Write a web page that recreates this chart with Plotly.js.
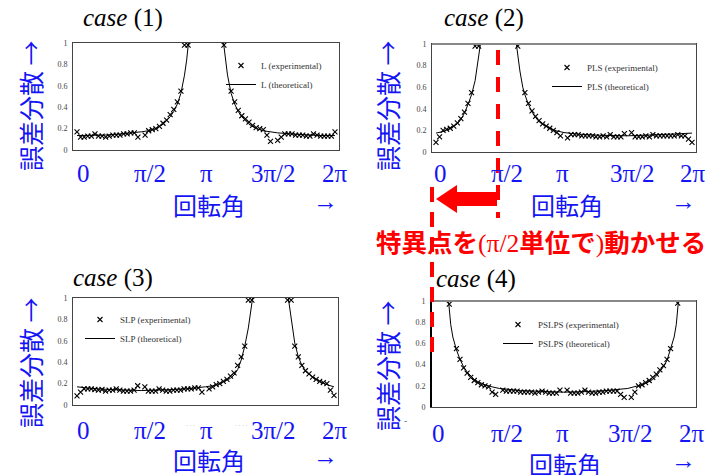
<!DOCTYPE html>
<html>
<head>
<meta charset="utf-8">
<script src="https://cdn.plot.ly/plotly-3.0.1.min.js"></script>
<style>html,body{margin:0;padding:0;background:#fff;}#chart{width:713px;height:475px;}</style>
</head>
<body>
<div id="chart"></div>
<script>
// ---- data ----
const angles = [0,5,10,15,20,25,30,35,40,45,50,55,60,65,70,75,80,85,90,95,100,105,110,115,120,125,130,135,140,145,150,155,160,165,170,175,180,185,190,195,200,205,210,215,220,225,230,235,240,245,250,255,260,265,270,275,280,285,290,295,300,305,310,315,320,325,330,335,340,345,350,355,360];

const case1Exp = [0.17,0.12,0.12,0.13,0.13,0.15,0.13,0.13,0.12,0.13,
  0.14,0.14,0.14,0.15,0.15,0.16,0.16,0.12,null,0.14,
  0.18,0.19,0.2,0.22,0.25,0.28,0.33,0.38,0.45,0.55,
  0.98,0.98,null,null,null,null,null,null,null,null,
  null,0.98,null,0.55,0.45,0.37,0.32,0.29,0.26,0.23,
  0.21,0.2,0.19,0.14,0.08,null,0.09,0.12,0.15,0.15,
  0.15,0.14,0.14,0.14,0.13,0.13,0.15,0.14,0.13,0.13,
  0.13,0.13,0.17];
const case1TheoX = [0,20,40,60,80,90,100,110,120,130,135,140,145,150,153,155.5,null,204.5,207,210,215,220,225,230,240,250,260,270,280,300,320,340,360];
const case1TheoY = [0.135,0.135,0.14,0.15,0.16,0.17,0.18,0.2,0.24,0.31,0.36,0.43,0.53,0.7,0.84,1.0,null,1.0,0.84,0.7,0.53,0.43,0.36,0.31,0.24,0.2,0.18,0.17,0.16,0.15,0.14,0.135,0.135];

const case2Exp = [0.09,0.14,0.2,0.21,0.22,0.24,0.27,0.31,0.37,0.45,
  0.55,0.98,0.98,null,null,null,null,null,null,null,
  null,null,null,0.98,null,0.55,0.45,0.38,0.33,0.29,
  0.26,0.24,0.22,0.2,0.18,0.15,null,0.13,0.16,0.16,
  0.16,0.15,0.15,0.15,0.15,0.14,0.14,0.15,0.14,0.16,
  0.14,0.14,0.14,0.17,null,0.18,0.14,0.14,0.14,0.15,
  0.14,0.16,0.15,0.15,0.15,0.15,0.15,0.15,0.16,0.15,
  0.15,0.12,0.09];
const case2TheoX = [0,10,20,30,35,40,45,50,55,58,60,62.5,null,113,115,118,122,125,130,135,140,145,150,160,170,180,200,230,270,300,330,360];
const case2TheoY = [0.175,0.19,0.22,0.26,0.3,0.36,0.44,0.53,0.66,0.78,0.88,1.0,null,1.0,0.88,0.75,0.6,0.53,0.44,0.37,0.32,0.28,0.255,0.22,0.195,0.18,0.165,0.155,0.15,0.155,0.165,0.175];

const case3Exp = [0.085,0.12,0.15,0.15,0.15,0.145,0.14,0.145,0.13,0.14,
  0.14,0.15,0.14,0.13,0.13,0.13,0.14,0.18,null,0.17,
  0.13,0.13,0.13,0.15,0.14,0.13,0.13,0.14,0.14,0.14,
  0.15,0.15,0.15,0.16,0.16,0.12,null,0.15,0.17,0.19,
  0.2,0.22,0.24,0.27,0.3,0.37,0.45,0.55,0.98,0.98,
  null,null,null,null,null,null,null,null,null,0.98,
  0.98,0.55,0.45,0.37,0.32,0.29,0.26,0.24,0.22,0.21,
  0.2,0.14,0.09];
const case3TheoX = [0,20,45,90,135,160,180,190,200,210,215,220,225,230,235,240,243,246,null,296,299,302,305,310,315,320,330,340,350,360];
const case3TheoY = [0.17,0.155,0.145,0.135,0.145,0.155,0.17,0.18,0.2,0.23,0.25,0.28,0.33,0.42,0.55,0.72,0.85,1.0,null,1.0,0.85,0.72,0.58,0.45,0.37,0.32,0.26,0.22,0.19,0.17];

const case4Exp = [null,null,null,null,0.97,null,0.55,0.45,0.37,0.32,
  0.28,0.25,0.23,0.21,0.2,0.19,0.14,0.12,null,0.16,
  0.15,0.15,0.15,0.15,0.14,0.14,0.14,0.14,0.13,0.14,
  0.15,0.14,0.13,0.13,0.13,0.16,null,0.16,0.13,0.13,
  0.13,0.14,0.16,0.14,0.13,0.13,0.14,0.14,0.15,0.15,
  0.15,0.15,0.12,0.09,null,0.09,0.14,0.2,0.21,0.23,
  0.25,0.28,0.31,0.35,0.39,0.45,0.55,null,0.98,null,
  null,null,null];
const case4TheoX = [19,22,25,30,35,40,45,50,55,60,70,80,90,120,150,180,210,240,270,280,290,300,305,310,315,320,325,330,335,338,341];
const case4TheoY = [1.0,0.78,0.66,0.54,0.45,0.38,0.33,0.29,0.26,0.24,0.21,0.19,0.175,0.155,0.145,0.14,0.145,0.155,0.175,0.19,0.21,0.24,0.26,0.29,0.33,0.38,0.44,0.54,0.66,0.78,1.0];

const seriesNames = ['L','PLS','SLP','PSLPS'];
const caseLabels = ['case (1)','case (2)','case (3)','case (4)'];
const yTickVals = [0,0.2,0.4,0.6,0.8,1];
const yTickText = ['0','0.2','0.4','0.6','0.8','1'];
const xLabels = ['0','π/2','π','3π/2','2π'];
const yTitle = '誤差分散 →';
const xTitle = '回転角';
const noteParts = ['特異点を', '(π/2', '単位で', ')', '動かせる'];

// ---- layout helpers ----
const W = 713, H = 475;
const X = p => p / W;
const Y = p => 1 - p / H;
const BLUE = '#1414f5';
const SERIF = '"Liberation Serif", "Times New Roman", serif';
const JP = '"Noto Sans CJK JP", "Noto Sans", sans-serif';
const serifSpan = t => '<span style="font-family:Liberation Serif;font-weight:normal">' + t + '</span>';

const exps = [case1Exp, case2Exp, case3Exp, case4Exp];
const theoX = [case1TheoX, case2TheoX, case3TheoX, case4TheoX];
const theoY = [case1TheoY, case2TheoY, case3TheoY, case4TheoY];

const boxes = [
  {x0:73, x1:339, y0:43, y1:150},
  {x0:432, x1:696, y0:44, y1:152},
  {x0:73, x1:338, y0:298, y1:405},
  {x0:431, x1:696, y0:301, y1:407}
];
const legendPos = [[221,51],[547,53],[80,305],[498,310]];
const titlePos = [[123,18],[484,18],[113,278],[476,279]];
const labelRows = [
  {y:173, xs:[83,150,206,273,335]},
  {y:173, xs:[440,507,562,632,693]},
  {y:430, xs:[83,150,206,273,335]},
  {y:433, xs:[439,507,562,630,692]}
];
const xTitlePos = [[209,204,325],[567,204,683],[209,459,325],[565,463,683]];
const yTitlePos = [[30,106],[387,105],[30,363],[387,365]];

const traces = [];
const layout = {
  width: W, height: H,
  margin: {l:0, r:0, t:0, b:0},
  paper_bgcolor: '#fff', plot_bgcolor: '#fff',
  showlegend: true,
  annotations: [], shapes: []
};

for (let i = 0; i < 4; i++) {
  const s = i === 0 ? '' : String(i + 1);
  const b = boxes[i];
  const leg = i === 0 ? 'legend' : 'legend' + (i + 1);
  traces.push({
    x: angles, y: exps[i], xaxis: 'x' + s, yaxis: 'y' + s,
    type: 'scatter', mode: 'markers', name: seriesNames[i] + ' (experimental)',
    legend: leg, cliponaxis: true,
    marker: {symbol: 'x-thin', size: 5, color: '#000', line: {width: 1.1, color: '#000'}}
  });
  traces.push({
    x: theoX[i], y: theoY[i], xaxis: 'x' + s, yaxis: 'y' + s,
    type: 'scatter', mode: 'lines', name: seriesNames[i] + ' (theoretical)',
    legend: leg, connectgaps: false,
    line: {color: '#000', width: 1}
  });
  layout['xaxis' + s] = {
    domain: [X(b.x0), X(b.x1)], range: [-5.6, 365.6], anchor: 'y' + s,
    showticklabels: false, ticks: '', showgrid: false, zeroline: false,
    showline: true, mirror: true, linecolor: '#444', linewidth: 1, fixedrange: true
  };
  layout['yaxis' + s] = {
    domain: [Y(b.y1), Y(b.y0)], range: [0, 1], anchor: 'x' + s,
    tickvals: yTickVals, ticktext: yTickText, ticks: '', ticklabelstandoff: 3,
    tickfont: {family: SERIF, size: 8, color: '#444'},
    showgrid: false, zeroline: false,
    showline: true, mirror: true, linecolor: '#444', linewidth: 1, fixedrange: true
  };
  layout[leg] = {
    x: X(legendPos[i][0]), y: Y(legendPos[i][1]), xanchor: 'left', yanchor: 'top',
    bgcolor: 'rgba(0,0,0,0)', borderwidth: 0, itemwidth: 30,
    font: {family: SERIF, size: 9, color: '#333'}
  };
  // case titles
  const num = caseLabels[i].replace('case', '');
  layout.annotations.push({
    xref: 'paper', yref: 'paper', x: X(titlePos[i][0]), y: Y(titlePos[i][1]),
    xanchor: 'center', yanchor: 'middle', showarrow: false,
    text: '<i>case</i>' + num, font: {family: SERIF, size: 25, color: '#000'}
  });
  // blue angle labels
  labelRows[i].xs.forEach((xx, k) => {
    layout.annotations.push({
      xref: 'paper', yref: 'paper', x: X(xx), y: Y(labelRows[i].y),
      xanchor: 'center', yanchor: 'middle', showarrow: false,
      text: xLabels[k], font: {family: SERIF, size: 25, color: BLUE}
    });
  });
  // x title
  layout.annotations.push({
    xref: 'paper', yref: 'paper', x: X(xTitlePos[i][0]), y: Y(xTitlePos[i][1]),
    xanchor: 'center', yanchor: 'middle', showarrow: false,
    text: xTitle, font: {family: JP, size: 24, color: BLUE}
  });
  layout.annotations.push({
    xref: 'paper', yref: 'paper', x: X(xTitlePos[i][2]), y: Y(xTitlePos[i][1] - 3),
    xanchor: 'center', yanchor: 'middle', showarrow: false,
    text: '→', font: {family: SERIF, size: 25, color: BLUE}
  });
  // y title
  layout.annotations.push({
    xref: 'paper', yref: 'paper', x: X(yTitlePos[i][0]), y: Y(yTitlePos[i][1]),
    xanchor: 'center', yanchor: 'middle', showarrow: false, textangle: -90,
    text: yTitle, font: {family: JP, size: 25, color: BLUE}
  });
}

// faint dotted artefacts
layout.annotations.push({xref:'paper',yref:'paper',x:X(184),y:Y(431),showarrow:false,text:'· · ·',font:{family:SERIF,size:6,color:'#aaa'}});
layout.annotations.push({xref:'paper',yref:'paper',x:X(233),y:Y(431),showarrow:false,text:'· · · ·',font:{family:SERIF,size:6,color:'#aaa'}});
layout.annotations.push({xref:'paper',yref:'paper',x:X(405),y:Y(428),showarrow:false,text:'-',font:{family:SERIF,size:10,color:'#777'}});

// top border grey, left border black in case 4
layout.shapes.push({type:'line', xref:'x2 domain', yref:'y2 domain', x0:0, x1:1, y0:1, y1:1, line:{color:'#888', width:2}});
layout.shapes.push({type:'line', xref:'x4 domain', yref:'y4 domain', x0:0, x1:1, y0:1, y1:1, line:{color:'#888', width:2}});
layout.shapes.push({type:'line', xref:'x4 domain', yref:'y4 domain', x0:0, x1:0, y0:0, y1:1, line:{color:'#000', width:2}});

// red annotation: dashed lines, arrow, text
const RED = '#ff0000';
layout.shapes.push({type:'line', xref:'paper', yref:'paper', x0:X(498), x1:X(498), y0:Y(50), y1:Y(218), line:{color:RED, width:4, dash:'15px,12px'}});
layout.shapes.push({type:'line', xref:'paper', yref:'paper', x0:X(432), x1:X(432), y0:Y(187), y1:Y(353), line:{color:RED, width:4, dash:'15px,10px'}});
const arrowPts = [[497,192],[457,192],[457,185],[436,199],[457,213],[457,206],[497,206]];
const arrowPath = 'M ' + arrowPts.map(p => X(p[0]).toFixed(5) + ',' + Y(p[1]).toFixed(5)).join(' L ') + ' Z';
layout.shapes.push({type:'path', xref:'paper', yref:'paper', path: arrowPath, fillcolor: RED, line:{color:RED, width:0}});
const noteText = '<b>' + noteParts[0] + '</b>' + serifSpan(noteParts[1]) + '<b>' + noteParts[2] + '</b>' +
  serifSpan(noteParts[3]) + '<b>' + noteParts[4] + '</b>';
layout.annotations.push({
  xref:'paper', yref:'paper', x:X(541), y:Y(240), xanchor:'center', yanchor:'middle', showarrow:false,
  text: noteText, font:{family: JP, size: 25.5, color: RED}
});

Plotly.newPlot('chart', traces, layout, {staticPlot: true, displayModeBar: false});
</script>
</body>
</html>
